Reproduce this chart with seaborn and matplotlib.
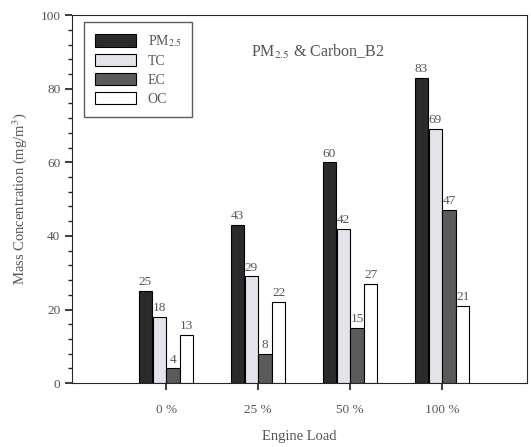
import pandas as pd
import matplotlib.pyplot as plt
import seaborn as sns
from matplotlib.ticker import MultipleLocator

loads = ['0 %', '25 %', '50 %', '100 %']
series = ['PM$_{2.5}$', 'TC', 'EC', 'OC']
pm25 = [25, 43, 60, 83]
tc = [18, 29, 42, 69]
ec = [4, 8, 15, 47]
oc = [13, 22, 27, 21]

colors = ['#2b2b2b', '#e2e2ea', '#5a5a5a', '#ffffff']

rows = []
for name, vals in zip(series, [pm25, tc, ec, oc]):
    for load, v in zip(loads, vals):
        rows.append({'Load': load, 'Series': name, 'Value': v})
df = pd.DataFrame(rows)

sns.set_theme(style="ticks")
plt.rcParams['font.family'] = ['Liberation Serif', 'DejaVu Serif']
plt.rcParams['mathtext.fontset'] = 'stix'
grey = '#555555'

fig = plt.figure(figsize=(5.31, 4.47), dpi=100)
ax = fig.add_axes([0.136, 0.143, 0.856, 0.823])

sns.barplot(data=df, x='Load', y='Value', hue='Series', order=loads,
            hue_order=series, palette=colors, width=0.6, gap=0.04,
            edgecolor='black', linewidth=0.8, ax=ax)

for cont in ax.containers:
    ax.bar_label(cont, fmt='%d', padding=2, fontsize=9.5, color=grey)

ax.set_xlim(-1.02, 3.92)
ax.set_ylim(0, 100)
ax.yaxis.set_major_locator(MultipleLocator(20))
ax.yaxis.set_minor_locator(MultipleLocator(4))
ax.tick_params(axis='y', which='major', length=5, labelsize=9.5, labelcolor=grey)
ax.tick_params(axis='y', which='minor', length=3)
ax.tick_params(axis='x', length=5, labelsize=9.5, labelcolor=grey, pad=10)
ax.set_ylabel('Mass Concentration (mg/m$^3$)', fontsize=10.5, color=grey, labelpad=8)
ax.set_xlabel('Engine Load', fontsize=10.5, color=grey, labelpad=10)
for s in ax.spines.values():
    s.set_linewidth(0.8)

ax.text(0.54, 0.9, 'PM$_{2.5}$ & Carbon_B2', transform=ax.transAxes,
        ha='center', va='center', fontsize=11.5, color=grey)

leg = ax.legend(loc='upper left', bbox_to_anchor=(0.01, 1.0), fontsize=10,
                frameon=True, fancybox=False, edgecolor='#333333',
                handlelength=3.0, handleheight=1.0, labelspacing=0.35,
                borderpad=0.8)
for t in leg.get_texts():
    t.set_color(grey)

fig.savefig('out.png', dpi=100)
plt.close(fig)
